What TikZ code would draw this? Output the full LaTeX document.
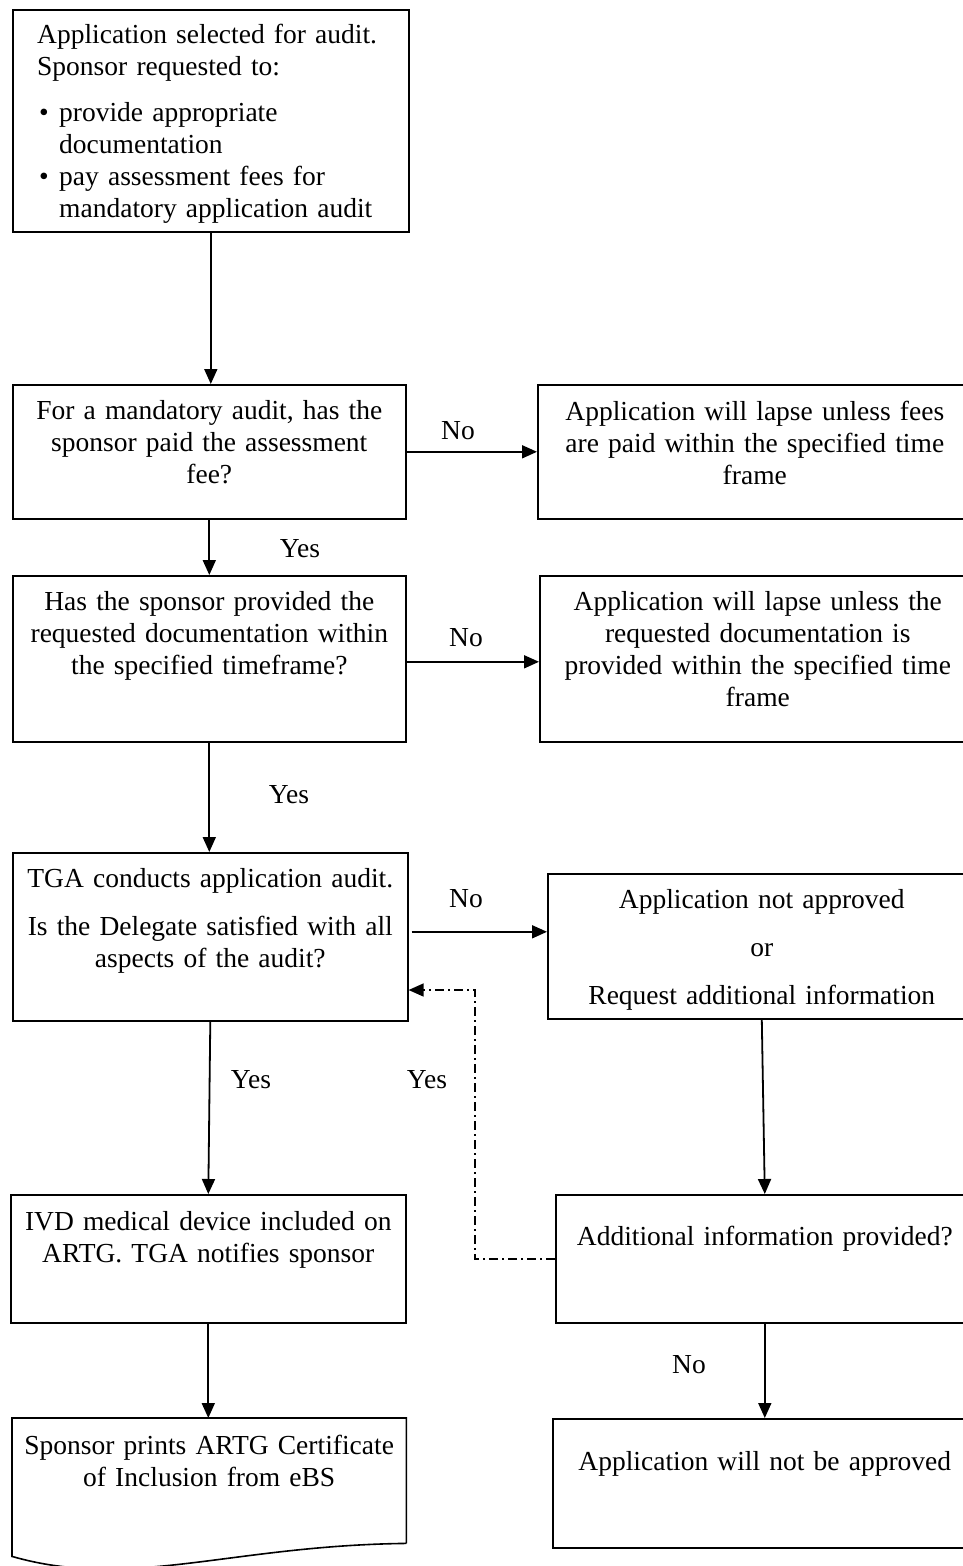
\documentclass[tikz,border=0pt]{standalone}
\usepackage{fontspec}
\setmainfont{Liberation Serif}
\usetikzlibrary{arrows.meta,calc}
\newcommand\fl{\rule{0pt}{19pt}}
\tikzset{
  box/.style={draw, line width=1.6pt, anchor=north west, inner sep=0pt},
  plainbox/.style={anchor=north west, inner sep=0pt},
  txt/.style={inner sep=0pt, anchor=north, align=center, text width=420pt,
    font=\fontsize{27.5}{32}\selectfont},
  lbl/.style={inner sep=0pt, font=\fontsize{27.5}{32}\selectfont},
  arr/.style={line width=1.8pt, -{Triangle[length=15pt,width=13pt]}},
  dashdot/.style={line width=1.5pt, dash pattern=on 9pt off 4pt on 2pt off 4pt,
    -{Triangle[length=15pt,width=13pt]}},
}
\begin{document}
\begin{tikzpicture}[x=1pt,y=-1pt]
\useasboundingbox (0,0) rectangle (963,1566);
\clip (0,0) rectangle (963,1566);

% left column boxes
\node[box, minimum width=396pt, minimum height=222pt] (b1) at (12,9) {};
\node[box, minimum width=393pt, minimum height=134pt] (b2) at (12,384) {};
\node[box, minimum width=393pt, minimum height=166pt] (b3) at (12,575) {};
\node[box, minimum width=395pt, minimum height=168pt] (b4) at (12,852) {};
\node[box, minimum width=395pt, minimum height=128pt] (b5) at (10,1194) {};
\node[plainbox, minimum width=394pt, minimum height=125pt] (b6) at (12,1418) {};
\draw[line width=1.6pt] (b6.south east) -- (b6.north east) -- (b6.north west)
  -- ([yshift=-13pt]b6.south west)
  .. controls ([xshift=118pt,yshift=-47pt]b6.south west) and ([xshift=218pt,yshift=-2pt]b6.south west) .. (b6.south east);

% right column boxes
\node[box, minimum width=434pt, minimum height=134pt] (r1) at (537,384) {};
\node[box, minimum width=436pt, minimum height=166pt] (r2) at (539,575) {};
\node[box, minimum width=428pt, minimum height=145pt] (r3) at (547,873) {};
\node[box, minimum width=418pt, minimum height=128pt] (r4) at (555,1194) {};
\node[box, minimum width=424pt, minimum height=129pt] (r5) at (552,1418) {};

% texts
\node[txt, align=left, anchor=north west, text width=380pt] (t1) at ([xshift=25pt,yshift=-15pt]b1.north west)
  {\fl Application selected for audit.\\ Sponsor requested to:\\[14pt]
   \makebox[22pt][l]{\hspace{2pt}\textbullet}provide appropriate\\
   \hspace*{22pt}documentation\\
   \makebox[22pt][l]{\hspace{2pt}\textbullet}pay assessment fees for\\
   \hspace*{22pt}mandatory application audit};
\node[txt] (t2) at ([yshift=-16pt]b2.north) {\fl For a mandatory audit, has the\\ sponsor paid the assessment\\ fee?};
\node[txt] (t3) at ([yshift=-16pt]b3.north) {\fl Has the sponsor provided the\\ requested documentation within\\ the specified timeframe?};
\node[txt] (t4) at ([yshift=-16pt]b4.north) {\fl TGA conducts application audit.\\[16pt] Is the Delegate satisfied with all\\ aspects of the audit?};
\node[txt] (t5) at ([yshift=-17pt]b5.north) {\fl IVD medical device included on\\ ARTG. TGA notifies sponsor};
\node[txt] (t6) at ([yshift=-17pt]b6.north) {\fl Sponsor prints ARTG Certificate\\ of Inclusion from eBS};

\node[txt] (u1) at ([yshift=-17pt]r1.north) {\fl Application will lapse unless fees\\ are paid within the specified time\\ frame};
\node[txt] (u2) at ([yshift=-16pt]r2.north) {\fl Application will lapse unless the\\ requested documentation is\\ provided within the specified time\\ frame};
\node[txt] (u3) at ([yshift=-16pt]r3.north) {\fl Application not approved\\[16pt] or\\[16pt] Request additional information};
\node[txt] (u4) at ([yshift=-32pt]r4.north) {\fl Additional information provided?};
\node[txt] (u5) at ([yshift=-33pt]r5.north) {\fl Application will not be approved};

% connectors
\draw[arr] (b1.south) -- (b1.south |- b2.north);
\draw[arr] (b2.south) -- (b2.south |- b3.north);
\draw[arr] (b3.south) -- (b3.south |- b4.north);
\draw[arr] (b4.south) -- (b5.north);
\draw[arr] (b5.south) -- (b5.south |- b6.north);
\draw[arr] (b2.east) -- (b2.east -| r1.west);
\draw[arr] ([yshift=-3pt]b3.east) -- ([yshift=-3pt]b3.east -| r2.west);
\draw[arr] ([xshift=3pt,yshift=5pt]b4.east) -- ([yshift=5pt]b4.east -| r3.west);
\draw[arr] (r3.south) -- (r4.north);
\draw[arr] (r4.south) -- (r5.north);
\coordinate (dd) at (475,990);
\draw[dashdot] (r4.west) -| (dd) -- (dd -| b4.east);

% labels
\node[lbl] (n1) at (458,431) {No};
\node[lbl] (n2) at (466,638) {No};
\node[lbl] (n3) at (466,899) {No};
\node[lbl] (n4) at (689,1365) {No};
\node[lbl] (y1) at (300,549) {Yes};
\node[lbl] (y2) at (289,795) {Yes};
\node[lbl] (y3) at (251,1080) {Yes};
\node[lbl] (y4) at (427,1080) {Yes};
\end{tikzpicture}
\end{document}
